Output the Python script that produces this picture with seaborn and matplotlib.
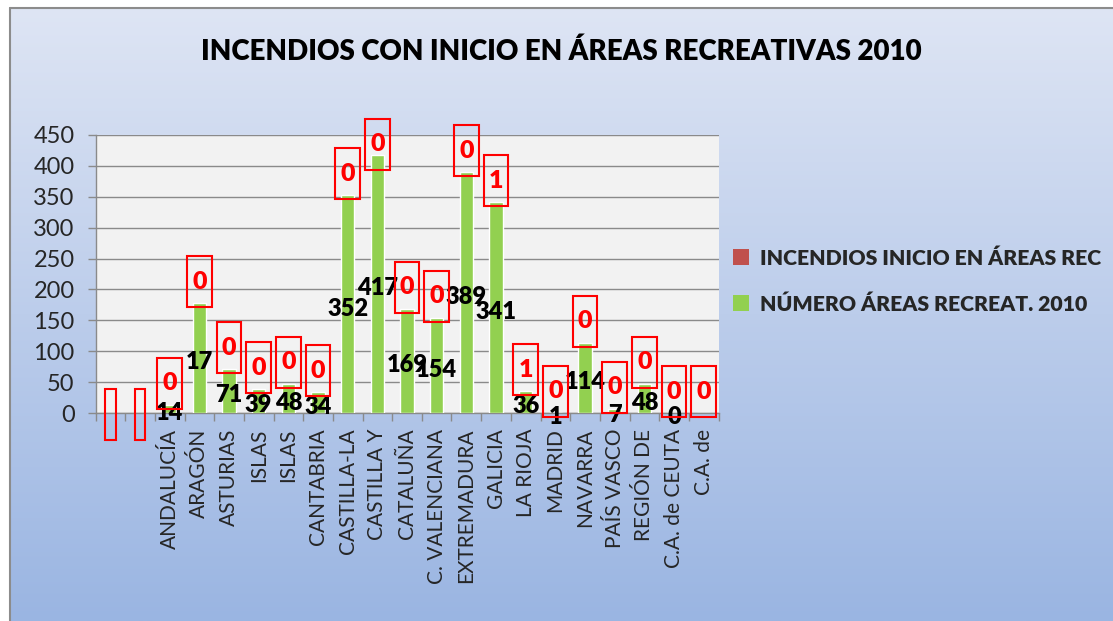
import numpy as np
import pandas as pd
import matplotlib
matplotlib.use("Agg")
import matplotlib.pyplot as plt
import seaborn as sns
from matplotlib.patches import Rectangle, Patch
from matplotlib.lines import Line2D

nan = np.nan
categories = ["", "", "ANDALUCÍA", "ARAGÓN", "ASTURIAS", "ISLAS", "ISLAS", "CANTABRIA",
              "CASTILLA-LA", "CASTILLA Y", "CATALUÑA", "C. VALENCIANA", "EXTREMADURA",
              "GALICIA", "LA RIOJA", "MADRID", "NAVARRA", "PAÍS VASCO", "REGIÓN DE",
              "C.A. de CEUTA", "C.A. de"]
incendios = [nan, nan, 0, 0, 0, 0, 0, 0, 0, 0, 0, 0, 0, 1, 1, 0, 0, 0, 0, 0, 0]
areas = [nan, nan, 14, 178, 71, 39, 48, 34, 352, 417, 169, 154, 389, 341, 36, 1, 114, 7, 48, 0, nan]
area_labels = ["", "", "14", "17", "71", "39", "48", "34", "352", "417", "169", "154", "389",
               "341", "36", "1", "114", "7", "48", "0", ""]
series_names = ["INCENDIOS INICIO EN ÁREAS REC", "NÚMERO ÁREAS RECREAT. 2010"]
title = "INCENDIOS CON INICIO EN ÁREAS RECREATIVAS 2010"
yticks = [0, 50, 100, 150, 200, 250, 300, 350, 400, 450]

RED = "#c0504d"
GREEN = "#92d050"
FONT = ["Lato", "DejaVu Sans"]

sns.set_theme(style="white")
plt.rcParams["font.family"] = FONT

W, H = 1113, 621
fig = plt.figure(figsize=(W / 100, H / 100), dpi=100)
fig.patch.set_facecolor("white")

# gradient chart background
bg = fig.add_axes([10 / W, 0, 1 - 10 / W, 1 - 8 / H], zorder=-5)
top = np.array([222, 229, 244]) / 255
bot = np.array([154, 181, 226]) / 255
t = np.linspace(0, 1, 256)[:, None]
grad = (top[None, :] * (1 - t) + bot[None, :] * t)[:, None, :]
bg.imshow(grad, aspect="auto", extent=[0, 1, 0, 1])
bg.set_axis_off()
fig.add_artist(Line2D([10 / W, 10 / W], [0, 1 - 8 / H], color="#8c8c8c", lw=1.5))
fig.add_artist(Line2D([10 / W, 1], [1 - 8 / H, 1 - 8 / H], color="#8c8c8c", lw=1.5))

ax = fig.add_axes([95.5 / W, (H - 413.3) / H, (718.5 - 95.5) / W, (413.3 - 134.7) / H], zorder=0)
ax.set_facecolor("#f2f2f2")

n = len(categories)
df = pd.DataFrame({"pos": list(range(n)), "incendios": incendios, "areas": areas})
sns.barplot(data=df, x="pos", y="incendios", order=list(range(n)), color=RED,
            saturation=1, width=0.45, errorbar=None, ax=ax, zorder=2)
sns.barplot(data=df, x="pos", y="areas", order=list(range(n)), color=GREEN,
            saturation=1, width=0.45, errorbar=None, ax=ax, zorder=3)

ax.set_xlim(-0.5, n - 0.5)
ax.set_ylim(0, 450)
ax.set_yticks(yticks)
ax.set_yticklabels([str(v) for v in yticks], fontsize=17)
ax.yaxis.grid(True, color="#8a8a8a", lw=1)
ax.set_axisbelow(True)
ax.set_xticks(range(n))
ax.set_xticklabels(categories, rotation=90, fontsize=15, va="top")
ax.set_xticks(np.arange(-0.5, n, 1), minor=True)
ax.tick_params(axis="x", which="major", length=0, pad=11)
ax.tick_params(axis="x", which="minor", length=6, color="#8a8a8a", width=1, direction="out", bottom=True)
ax.tick_params(axis="y", length=6, color="#8a8a8a", width=1, direction="out", left=True, pad=9)
ax.set_xlabel("")
ax.set_ylabel("")
for s in ["top", "right"]:
    ax.spines[s].set_visible(False)
for s in ["left", "bottom"]:
    ax.spines[s].set_color("#8a8a8a")
    ax.spines[s].set_linewidth(1)

# data labels of the green series (centered in bar)
for i, (v, lab) in enumerate(zip(areas, area_labels)):
    if lab:
        ax.annotate(lab, xy=(i, v / 2), xytext=(0, -3), textcoords="offset points",
                    ha="center", va="center", fontsize=17, fontweight="heavy",
                    color="black", zorder=6, annotation_clip=False)

# data labels of the red series with red border
units_per_px = 450 / (413.3 - 134.7)
box_h = 51 * units_per_px
for i, (r, v) in enumerate(zip(incendios, areas)):
    if np.isnan(r):
        w = 0.37
        b0 = -27 * units_per_px
        ax.add_patch(Rectangle((i - w / 2, b0), w, box_h, fill=False, ec="#ff0000",
                               lw=1.5, clip_on=False, zorder=7))
        continue
    base = 0 if np.isnan(v) else v
    b0 = min(base - 4 * units_per_px, 450 + 16 * units_per_px - box_h)
    w = 0.84
    ax.add_patch(Rectangle((i - w / 2, b0), w, box_h, fill=False, ec="#ff0000",
                           lw=1.5, clip_on=False, zorder=7))
    ax.text(i, b0 + box_h / 2, f"{int(r)}", ha="center", va="center", fontsize=18,
            fontweight="heavy", color="#ff0000", zorder=8, clip_on=False)

fig.text(561 / W, 1 - 52 / H, title, ha="center", va="center", fontsize=20,
         fontweight="heavy", color="black")

handles = [Patch(facecolor=RED, edgecolor="none"), Patch(facecolor=GREEN, edgecolor="none")]
leg = fig.legend(handles, series_names, loc="upper left", bbox_to_anchor=(714 / W, 1 - 229 / H),
                 frameon=False, prop={"family": FONT, "weight": "heavy", "size": 15.3},
                 handlelength=0.75, handleheight=0.75, handletextpad=0.5, labelspacing=1.25)

fig.savefig("out.png", dpi=100)
